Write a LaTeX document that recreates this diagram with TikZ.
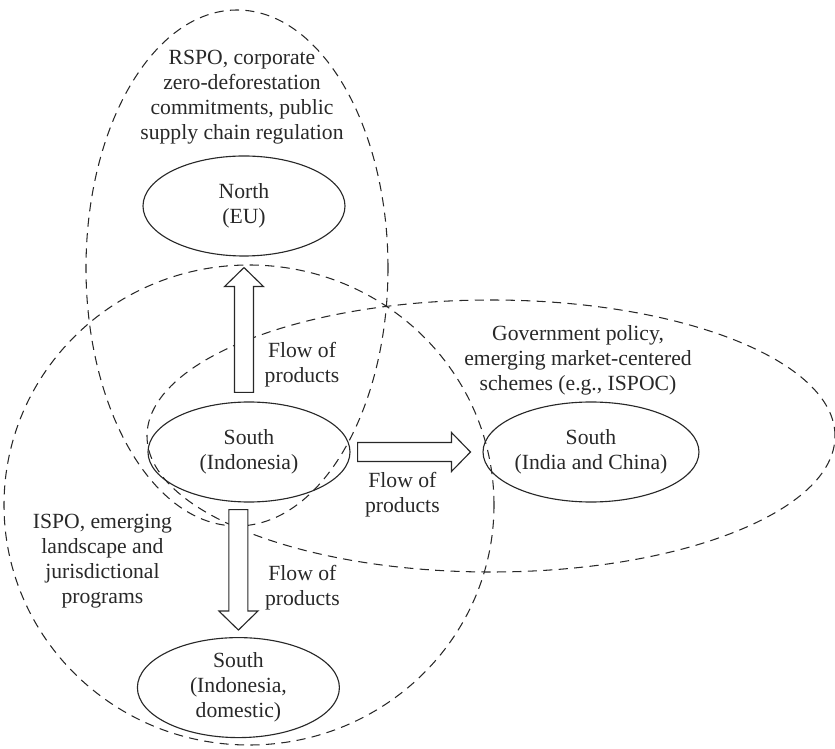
\documentclass[tikz,border=0pt]{standalone}
\usepackage{fontspec}
\setmainfont{Liberation Serif}
\usepackage{tikz}
\usetikzlibrary{shapes.geometric,calc}
\usepackage{xcolor}
\definecolor{inkgrey}{RGB}{40,40,40}

% hollow block arrow between two named coordinates
\newcommand{\flowarrow}[2]{%
  \path ($(#2)!0.475cm!(#1)$) coordinate (#2-base);
  \draw[flow] ($(#1)!0.2375cm!90:(#2)$) -- ($(#2-base)!0.2375cm!90:(#2)$)
    -- ($(#2-base)!0.4875cm!90:(#2)$) -- (#2)
    -- ($(#2-base)!0.4875cm!-90:(#2)$) -- ($(#2-base)!0.2375cm!-90:(#2)$)
    -- ($(#1)!0.2375cm!-90:(#2)$) -- cycle;}

\begin{document}
\begin{tikzpicture}[
    font=\fontsize{15.4}{17.8}\selectfont, text=inkgrey,
    region/.style={draw=inkgrey, line width=0.75pt, dash pattern=on 6.5pt off 4.5pt},
    market/.style={ellipse, draw=inkgrey, line width=0.8pt, minimum width=5.05cm, minimum height=2.5cm, inner sep=0pt, align=center},
    note/.style={align=center, inner sep=1pt},
    flow/.style={draw=inkgrey, line width=0.8pt, fill=white}
]
\useasboundingbox (0,0) rectangle (20.875,18.7);

% governance spheres
\draw[region] (5.925,12.0) ellipse [x radius=3.775cm, y radius=6.45cm];
\draw[region] (6.225,6.075) ellipse [x radius=6.125cm, y radius=6cm];
\draw[region] (12.275,7.8) ellipse [x radius=8.6cm, y radius=3.4cm];

% markets
\node[market] (north) at (6.1,13.55) {North\\(EU)};
\node[market] (sin) at (6.225,7.4) {South\\(Indonesia)};
\node[market] (sic) at (14.775,7.4) {South\\(India and China)};
\node[market] (sdom) at (5.96,1.51) {South\\(Indonesia,\\domestic)};

% governance labels
\node[note] (rspo) at (6.05,16.275) {RSPO, corporate\\zero-deforestation\\commitments, public\\supply chain regulation};
\node[note] (govt) at (14.45,9.7) {Government policy,\\emerging market-centered\\schemes (e.g., ISPOC)};
\node[note] (ispo) at (2.56,4.675) {ISPO, emerging\\landscape and\\jurisdictional\\programs};

% product flows
\coordinate (upfrom) at ($(north.south |- sin.north)+(0,0.225)$);
\coordinate (upto) at ($(north.south)+(0,-0.275)$);
\coordinate (rightfrom) at ($(sin.east)+(0.175,0)$);
\coordinate (rightto) at ($(sic.west |- sin.east)+(-0.3,0)$);
\coordinate (downfrom) at ($(sdom.north |- sin.south)+(0,-0.175)$);
\coordinate (downto) at ($(sdom.north)+(0,0.175)$);
\flowarrow{upfrom}{upto}
\flowarrow{rightfrom}{rightto}
\flowarrow{downfrom}{downto}

\node[note] (flowup) at (7.55,9.59) {Flow of\\products};
\node[note] (flowright) at (10.06,6.325) {Flow of\\products};
\node[note] (flowdown) at (7.56,4.01) {Flow of\\products};
\end{tikzpicture}
\end{document}
